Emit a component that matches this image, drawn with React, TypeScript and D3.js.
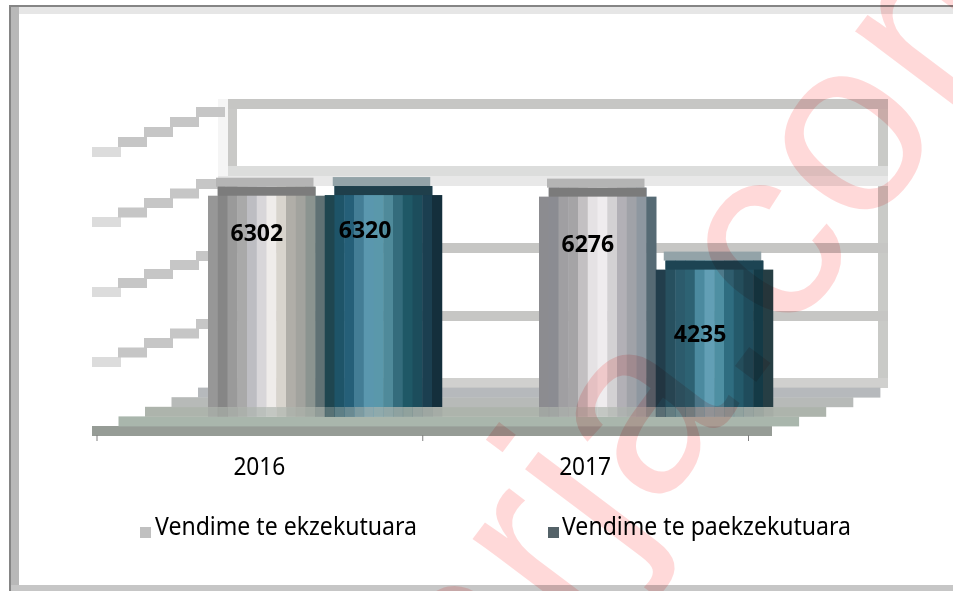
import React from "react";
import * as d3 from "d3";

const categories = ["2016", "2017"];
const seriesNames = ["Vendime te ekzekutuara", "Vendime te paekzekutuara"];
const executed = [6302, 6276];
const unexecuted = [6320, 4235];
const axisTicks = [0, 2000, 4000, 6000, 8000];

const gray2016 = ["#979797","#868686","#9a9a9a","#a9a9a9","#bdbdc2","#d8d6d9","#efecea","#d8d4cd","#b0aea8","#a2a39e","#8b9490","#5f7174"];
const teal2016 = ["#1f4650","#1e5468","#255f78","#437d95","#5a97ae","#5a98ab","#4f8a9a","#346c7c","#1f5866","#1c4d5c","#1b3f50","#142f3c"];
const gray2017 = ["#8c8c90","#8b8c92","#a09fa2","#a5a4a6","#c3c0c2","#e5e2e4","#efecee","#d3d1d3","#b2b0b6","#a0a2a8","#8e97a0","#566a74"];
const teal2017 = ["#223e4c","#27505f","#2c5b6c","#2d6273","#4b8a9f","#629fb5","#4e8fa2","#2f6d80","#245a6b","#1f4c5c","#143a46","#263e44"];
const palettes = [[gray2016, gray2017], [teal2016, teal2017]];
const capColors = [["#7c7c7c", "#7b7b7b"], ["#1f3f4b", "#1d4453"]];
const floorColors = ["#969c96", "#a9b6ac", "#adb4ac", "#b7bab8", "#b6b9bc"];

const W = 953, H = 591;
const STEP = 9.75;
const FONT = "'Noto Sans', sans-serif";
const BAR_BOTTOM = 407;

const yBar = d3.scaleLinear().domain([0, 8000]).range([412, 126]);
const backY = d3.scaleLinear().domain(axisTicks).range([383, 316, 248, 176, 104]);
const frontY = d3.scaleLinear().domain([0, 8000]).range([432, 152]);
const groupX = d3.scalePoint().domain(categories).range([208, 539]);
const innerX = d3.scaleBand().domain(seriesNames).range([0, 233.5]);
const tickX = d3.scaleLinear().domain([0, 2]).range([96.5, 748]);

const labelBase = [[241, 252], [238, 342]];
const labelDx = [[-9.5, -9.5], [-18, -14]];

function SideLine({ v }: { v: number }) {
  const n = 5;
  const x0 = d3.scaleLinear().domain([0, n]).range([92, 222]);
  const yy = d3.scaleLinear().domain([0, n - 1]).range([frontY(v), backY(v) + 8]);
  return <g>{d3.range(n).map((i) => (
    <rect key={i} x={x0(i)} y={yy(i) - 5} width={x0(1) - x0(0) + 3} height={10} fill={i === 0 ? "#dcdcdc" : "#c6c6c6"} />
  ))}</g>;
}

export default function App() {
  const values = [executed, unexecuted];
  const floorRows = d3.range(5);
  return (
    <svg width={W} height={H} style={{ position: "fixed", left: 0, top: 0, background: "#fff" }}>
      {/* frame */}
      <rect x={19} y={7} width={934} height={7} fill="#e6e6e6" />
      <rect x={9} y={5} width={944} height={2} fill="#858585" />
      <rect x={9} y={5} width={2} height={586} fill="#858585" />
      <rect x={11} y={7} width={8} height={584} fill="#b8b8b8" />
      <rect x={11} y={585} width={942} height={6} fill="#c6c6c6" />

      {/* walls */}
      <rect x={218} y={99} width={10} height={289} fill="#f5f5f5" />
      <rect x={228} y={99} width={9} height={289} fill="#c9c9c7" />
      <rect x={878} y={99} width={10} height={289} fill="#c9cac7" />
      <rect x={228} y={166} width={660} height={10} fill="#dcdddc" />
      <rect x={218} y={176} width={670} height={10} fill="#e8e8e8" />
      {axisTicks.filter((t) => t !== 6000).map((t) => (
        <rect key={t} x={228} y={backY(t) - 5} width={660} height={10} fill={t === 0 ? "#d0d0ce" : "#c6c6c4"} />
      ))}
      {axisTicks.slice(1).map((t) => <SideLine key={t} v={t} />)}

      {/* floor */}
      {floorRows.map((i) => (
        <rect key={i} x={92 + i * 26.5} y={426 - i * 9.6} width={680 + i * 0.6} height={10} fill={floorColors[i]} />
      ))}

      {/* bars */}
      {seriesNames.map((s, si) => categories.map((c, ci) => {
        const x = groupX(c)! + innerX(s)!;
        const top = yBar(values[si][ci]);
        return (
          <g key={s + c}>
            <rect x={x + 8} y={top - 9} width={STEP * 10} height={9} fill={si === 0 ? "#b4b4b4" : "#93a3a8"} />
            {palettes[si][ci].map((col, k) => {
              const y0 = top + (k === 0 || k === 11 ? 9 : 0);
              return (
                <g key={k}>
                  <rect x={x + k * STEP} y={y0} width={STEP + 0.5} height={BAR_BOTTOM - y0} fill={col} />
                  <rect x={x + k * STEP} y={BAR_BOTTOM} width={STEP + 0.5} height={10} fill={col} opacity={si === 0 ? 0.35 : (12 - k) / 20} />
                </g>
              );
            })}
            <rect x={x + STEP} y={top} width={STEP * 10} height={9} fill={capColors[si][ci]} />
          </g>
        );
      }))}

      {/* ticks */}
      {d3.range(3).map((i) => (
        <rect key={i} x={tickX(i)} y={435} width={1} height={6} fill="#808080" />
      ))}

      {/* data labels */}
      {seriesNames.map((s, si) => categories.map((c, ci) => (
        <text key={s + c} x={groupX(c)! + innerX(s)! + innerX.bandwidth() / 2 + labelDx[si][ci]}
          y={labelBase[si][ci]} textAnchor="middle" fontFamily={FONT} fontWeight={700} fontSize={23} fill="#000">
          {values[si][ci]}
        </text>
      )))}

      {/* category labels */}
      {categories.map((c, i) => (
        <text key={c} x={(tickX(i) + tickX(i + 1)) / 2} y={475} textAnchor="middle" fontFamily={FONT} fontSize={25} textLength={52} lengthAdjust="spacingAndGlyphs" fill="#000">{c}</text>
      ))}

      {/* legend */}
      <rect x={140} y={527} width={11} height={11} fill="#c0c0c0" />
      <text x={155} y={535} fontFamily={FONT} fontSize={25} textLength={262} lengthAdjust="spacingAndGlyphs" fill="#000">{seriesNames[0]}</text>
      <rect x={548} y={527} width={11} height={11} fill="#546268" />
      <text x={562} y={535} fontFamily={FONT} fontSize={25} textLength={289} lengthAdjust="spacingAndGlyphs" fill="#000">{seriesNames[1]}</text>

      {/* watermark */}
      <text x={482} y={746} transform="rotate(-53 482 746)" fontFamily="'Liberation Sans', sans-serif" fontSize={250} letterSpacing={4} fill="#ff0000" fillOpacity={0.15} style={{ mixBlendMode: "multiply" }}>arja.com</text>
    </svg>
  );
}
